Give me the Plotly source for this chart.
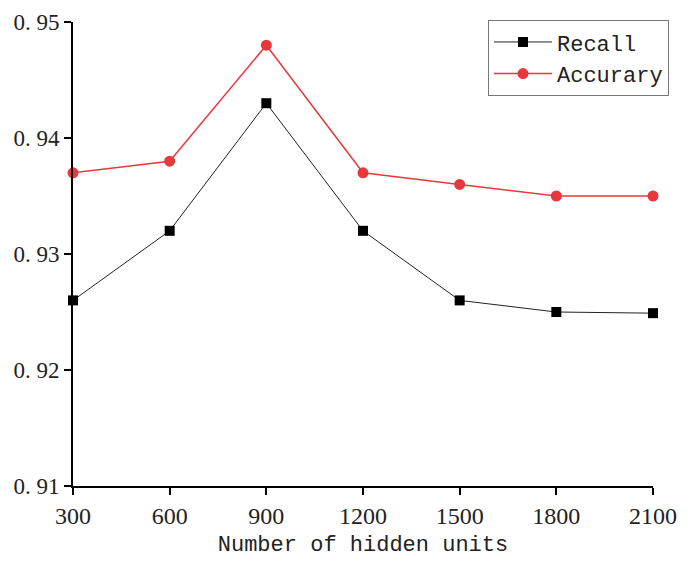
import plotly.graph_objects as go

hidden_units = [300, 600, 900, 1200, 1500, 1800, 2100]
recall = [0.926, 0.932, 0.943, 0.932, 0.926, 0.925, 0.9249]
accuracy = [0.937, 0.938, 0.948, 0.937, 0.936, 0.935, 0.935]
y_tickvals = [0.91, 0.92, 0.93, 0.94, 0.95]
y_ticktext = ["0. 91", "0. 92", "0. 93", "0. 94", "0. 95"]
x_tickvals = [300, 600, 900, 1200, 1500, 1800, 2100]

serif = "Liberation Serif, Times New Roman, serif"
mono = "Liberation Mono, Courier New, monospace"

fig = go.Figure()
fig.add_trace(go.Scatter(x=hidden_units, y=recall, name="Recall", mode="lines+markers",
                         line=dict(color="#222222", width=1),
                         marker=dict(symbol="square", size=10, color="black"),
                         cliponaxis=False))
fig.add_trace(go.Scatter(x=hidden_units, y=accuracy, name="Accurary", mode="lines+markers",
                         line=dict(color="#e8383d", width=1.5),
                         marker=dict(symbol="circle", size=11, color="#e8383d"),
                         cliponaxis=False))

fig.update_layout(
    width=696, height=564,
    margin=dict(l=65, r=51, t=12, b=86),
    paper_bgcolor="white", plot_bgcolor="white",
    showlegend=True,
    legend=dict(x=0.7155, y=1.004, xanchor="left", yanchor="top",
                bordercolor="#777777", borderwidth=1, bgcolor="white",
                font=dict(family=mono, size=22, color="#222222"),
                itemwidth=58, tracegroupgap=0),
    xaxis=dict(range=[300, 2100], tickvals=x_tickvals, showgrid=False, zeroline=False,
               automargin=False,
               showline=True, linecolor="black", linewidth=2,
               ticks="outside", ticklen=7, tickwidth=2, tickcolor="black",
               tickfont=dict(family=serif, size=24, color="#222222"),
               title=dict(text="Number of hidden units", standoff=8,
                          font=dict(family=mono, size=22, color="#222222"))),
    yaxis=dict(range=[0.91, 0.95], tickvals=y_tickvals, ticktext=y_ticktext,
               showgrid=False, zeroline=False, automargin=False,
               showline=True, linecolor="black", linewidth=2,
               ticks="outside", ticklen=7, tickwidth=2, tickcolor="black",
               tickfont=dict(family=serif, size=23, color="#222222")),
)

fig.write_html("out.html")
